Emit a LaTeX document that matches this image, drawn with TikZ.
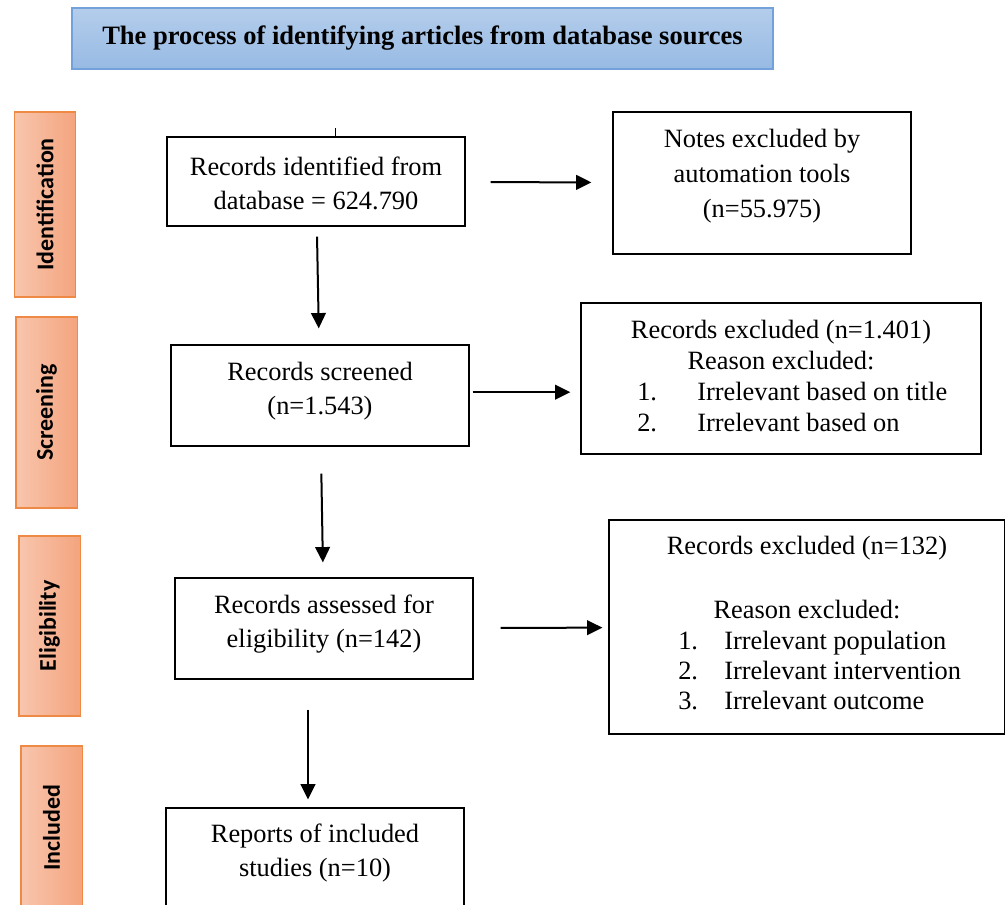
\documentclass[tikz,border=0pt]{standalone}
\usepackage{fontspec}
\setmainfont{Liberation Serif}
\newfontfamily\phasefont{Carlito}
\usetikzlibrary{positioning,arrows.meta,calc}

\definecolor{titletop}{HTML}{B4CDEB}
\definecolor{titlebot}{HTML}{97BAE4}
\definecolor{titleline}{HTML}{72A2D9}
\definecolor{phaseleft}{HTML}{F8C6AE}
\definecolor{phaseright}{HTML}{F4A47E}
\definecolor{phaseline}{HTML}{EE8A45}

\begin{document}
\begin{tikzpicture}
    [ x=0.75pt, y=-0.75pt
    , procbox/.style={draw, line width=0.9pt, inner sep=0pt, align=center,
        minimum width=223.5pt, font=\fontsize{19.8}{25.5}\selectfont}
    , txt/.style={inner sep=0pt, align=center, font=\fontsize{19.8}{26}\selectfont}
    , listtxt/.style={inner sep=0pt, align=left, anchor=west, font=\fontsize{19.8}{22.8}\selectfont}
    , phase/.style={draw=phaseline, line width=1pt, inner sep=0pt,
        left color=phaseleft, right color=phaseright, minimum width=46pt}
    , phaselabel/.style={rotate=90, inner sep=0pt,
        font=\phasefont\bfseries\fontsize{18}{20}\selectfont}
    , arr/.style={-{Triangle[length=11.5pt,width=11pt]}, line width=1.5pt}
    ]
  \useasboundingbox (0,0) rectangle (1005,905);

  % title
  \node[draw=titleline, line width=1pt, top color=titletop, bottom color=titlebot,
        minimum width=525.75pt, minimum height=45.75pt,
        font=\bfseries\fontsize{19.9}{22}\selectfont] (title) at (422.5,38.5)
    {The process of identifying articles from database sources};

  % phases on the left
  \node[phase, minimum height=138.75pt] (idPh)  at (45,204.5)  {};
  \node[phase, minimum height=143.25pt] (scrPh) at (46.5,412.5) {};
  \node[phase, minimum height=135pt]    (elPh)  at (49.5,626)   {};
  \node[phase, minimum height=123pt]    (incPh) at (51.5,828)   {};
  \node[phaselabel] (idLbl)  at (idPh)  {Identification};
  \node[phaselabel] (scrLbl) at (scrPh) {Screening};
  \node[phaselabel] (elLbl)  at (elPh)  {Eligibility};
  \node[phaselabel] (incLbl) at (incPh) {Included};

  % main column
  \node[procbox, minimum height=66.75pt] (idBox) at (316,181.5) {};
  \node[txt] (idTxt) at (316,183.5) {Records identified from\\database = 624.790};
  \node[procbox, minimum height=75.75pt] (scrBox) at (320,395.5) {};
  \node[txt] (scrTxt) at (320,391) {Records screened\\(n=1.543)};
  \node[procbox, minimum height=75.75pt] (elBox) at (324,628.5) {};
  \node[txt] (elTxt) at (324,624) {Records assessed for\\eligibility (n=142)};
  \node[procbox, minimum height=99pt] (incBox) at (315,874) {};
  \node[txt] (incTxt) at (315,853) {Reports of included\\studies (n=10)};

  % exclusions
  \node[procbox, minimum height=106.5pt] (idEx) at (762,183) {};
  \node[txt] (idExTxt) at (762,176) {Notes excluded by\\automation tools\\(n=55.975)};

  \node[procbox, minimum width=300pt, minimum height=113.25pt] (scrEx) at (781,378.5) {};
  \node[txt, font=\fontsize{19.8}{22.8}\selectfont] (scrExTxt) at (781,345)
    {Records excluded (n=1.401)\\Reason excluded:};
  \node[listtxt] (scrExList) at (637,407)
    {\makebox[45pt][l]{1.}Irrelevant based on title\\
     \makebox[45pt][l]{2.}Irrelevant based on};

  \node[procbox, minimum width=297pt, minimum height=160.5pt] (elEx) at (807,627) {};
  \node[txt] (elExHead) at (807,548) {Records excluded (n=132)};
  \node[txt] (elExWhy) at (807,610) {Reason excluded:};
  \node[listtxt] (elExList) at (678,670.5)
    {\makebox[34.5pt][l]{1.}Irrelevant population\\
     \makebox[34.5pt][l]{2.}Irrelevant intervention\\
     \makebox[34.5pt][l]{3.}Irrelevant outcome};

  % arrows
  \draw[line width=0.75pt] ([xshift=14.25pt]idBox.north) -- ++(0,-8);
  \draw[arr, shorten <=18.75pt, shorten >=15.75pt] (idBox) -- (idEx);
  \draw[arr, shorten <=7.5pt, shorten >=12pt] (idBox) -- (scrBox);
  \draw[arr, shorten <=2.25pt, shorten >=7.5pt]
    ([yshift=2.5pt]scrBox.east) -- ([yshift=2.5pt]scrBox.east -| scrEx.west);
  \draw[arr, shorten <=20.25pt, shorten >=11.25pt] (scrBox) -- (elBox);
  \draw[arr, shorten <=20.25pt, shorten >=4.5pt] (elBox) -- (elEx);
  \draw[arr, shorten <=22.5pt, shorten >=6pt]
    ([xshift=-12pt]elBox.south) -- ([xshift=-12pt]elBox.south |- incBox.north);
\end{tikzpicture}
\end{document}
